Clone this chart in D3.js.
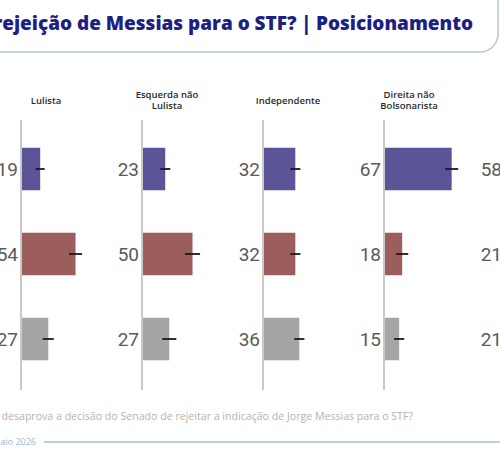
<!DOCTYPE html>
<html>
<head>
<meta charset="utf-8">
<script src="https://cdn.jsdelivr.net/npm/d3@7"></script>
<style>
  body { margin: 0; background: #fff; overflow: hidden; }
  svg { display: block; }
</style>
</head>
<body>
<script>
// data
const panels = ["Lulista", "Esquerda não Lulista", "Independente", "Direita não Bolsonarista", "Bolsonarista"];
const panelTitles = [["Lulista"], ["Esquerda não", "Lulista"], ["Independente"], ["Direita não", "Bolsonarista"], ["Bolsonarista"]];
const answers = ["Aprova", "Desaprova", "Não sabe"];
const values = [
  [19, 54, 27],
  [23, 50, 27],
  [32, 32, 36],
  [67, 18, 15],
  [58, 21, 21]
];
const margins = [
  [4.5, 6.5, 5.5],
  [5, 7.5, 7],
  [5, 5, 5],
  [6.5, 6, 5],
  [6, 5, 5]
];
const colors = ["#5b5598", "#9c5e5d", "#a5a5a5"];
const titleText = "Aprova ou desaprova a rejeição de Messias para o STF? | Posicionamento";
const questionText = "Aprova ou desaprova a decisão do Senado de rejeitar a indicação de Jorge Messias para o STF?";
const dateText = "Maio 2026";

let width = 500;
let height = 450;

let svg = d3.select("body").append("svg")
    .attr("width", width)
    .attr("height", height)
    .attr("viewBox", [0, 0, width, height]);

// scale a text's font so the part from `from` to the end spans [x0, x1]
function fitFrom(sel, from, x0, x1) {
  const node = sel.node();
  const txt = node.textContent;
  const i = txt.indexOf(from);
  let fs = parseFloat(sel.style("font-size"));
  const w = node.getSubStringLength(i, txt.length - i);
  fs = fs * (x1 - x0) / w;
  sel.style("font-size", fs + "px");
}

// header box
svg.append("rect")
    .attr("x", -30)
    .attr("y", -30)
    .attr("width", 528)
    .attr("height", 82)
    .attr("rx", 18)
    .attr("fill", "#fff")
    .attr("stroke", "#b3c7db")
    .attr("stroke-width", 1.5);

const title = svg.append("text")
    .attr("x", 473)
    .attr("y", 30)
    .attr("text-anchor", "end")
    .attr("fill", "#1d1f85")
    .style("font-family", "'Open Sans', sans-serif")
    .style("font-weight", 800)
    .style("font-size", "18px")
    .text(titleText);
fitFrom(title, "ejeição", 2, 473);

// scales
let px = d3.scalePoint()
    .domain(panels)
    .range([21, 505]);

let y = d3.scaleBand()
    .domain(answers)
    .range([126.5, 381.5])
    .paddingInner(0.5)
    .paddingOuter(0.25);

let x = d3.scaleLinear()
    .domain([0, 100])
    .range([0, 101]);

const g = svg.selectAll("g.panel")
    .data(panels)
    .join("g")
    .attr("class", "panel")
    .attr("transform", d => `translate(${px(d)},0)`);

// panel titles
g.append("text")
    .attr("x", 25)
    .attr("y", (d, i) => panelTitles[i].length > 1 ? 98 : 104)
    .attr("text-anchor", "middle")
    .attr("fill", "#2a2a2a")
    .style("font-family", "'Open Sans', sans-serif")
    .style("font-weight", 600)
    .style("font-size", "9.5px")
    .selectAll("tspan")
    .data((d, i) => panelTitles[i])
    .join("tspan")
    .attr("x", 25)
    .attr("dy", (d, j) => j === 0 ? 0 : 11)
    .text(d => d);

// bars
g.selectAll("rect.bar")
    .data((d, i) => answers.map((a, j) => ({ a: a, v: values[i][j], c: colors[j] })))
    .join("rect")
    .attr("class", "bar")
    .attr("x", 0)
    .attr("y", d => y(d.a))
    .attr("width", d => x(d.v))
    .attr("height", y.bandwidth())
    .attr("fill", d => d.c);

// axis line
g.append("line")
    .attr("x1", 0)
    .attr("x2", 0)
    .attr("y1", 120)
    .attr("y2", 390)
    .attr("stroke", "#c9c9c9")
    .attr("stroke-width", 2);

// error bars
g.selectAll("line.err")
    .data((d, i) => answers.map((a, j) => ({ a: a, v: values[i][j], e: margins[i][j] })))
    .join("line")
    .attr("class", "err")
    .attr("x1", d => x(d.v - d.e))
    .attr("x2", d => x(d.v + d.e))
    .attr("y1", d => y(d.a) + y.bandwidth() / 2)
    .attr("y2", d => y(d.a) + y.bandwidth() / 2)
    .attr("stroke", "#1a1a1a")
    .attr("stroke-width", 1.8);

// value labels
g.selectAll("text.val")
    .data((d, i) => answers.map((a, j) => ({ a: a, v: values[i][j] })))
    .join("text")
    .attr("class", "val")
    .attr("x", -3)
    .attr("y", d => y(d.a) + y.bandwidth() / 2)
    .attr("dy", "0.36em")
    .attr("text-anchor", "end")
    .attr("fill", "#5a5a5a")
    .style("font-family", "'Liberation Sans Narrow', Roboto, sans-serif")
    .style("font-size", "19px")
    .text(d => d.v);

// footer
const question = svg.append("text")
    .attr("x", 413)
    .attr("y", 420)
    .attr("text-anchor", "end")
    .attr("fill", "#b3b3b3")
    .style("font-family", "'Open Sans', sans-serif")
    .style("font-size", "10px")
    .text(questionText);
fitFrom(question, "desaprova", 1, 413);

svg.append("text")
    .attr("x", 36)
    .attr("y", 445)
    .attr("text-anchor", "end")
    .attr("fill", "#9bb9d6")
    .style("font-family", "'Open Sans', sans-serif")
    .style("font-size", "9px")
    .text(dateText);

svg.append("line")
    .attr("x1", 44)
    .attr("x2", 500)
    .attr("y1", 442)
    .attr("y2", 442)
    .attr("stroke", "#a6c2de")
    .attr("stroke-width", 1.5);
</script>
</body>
</html>
